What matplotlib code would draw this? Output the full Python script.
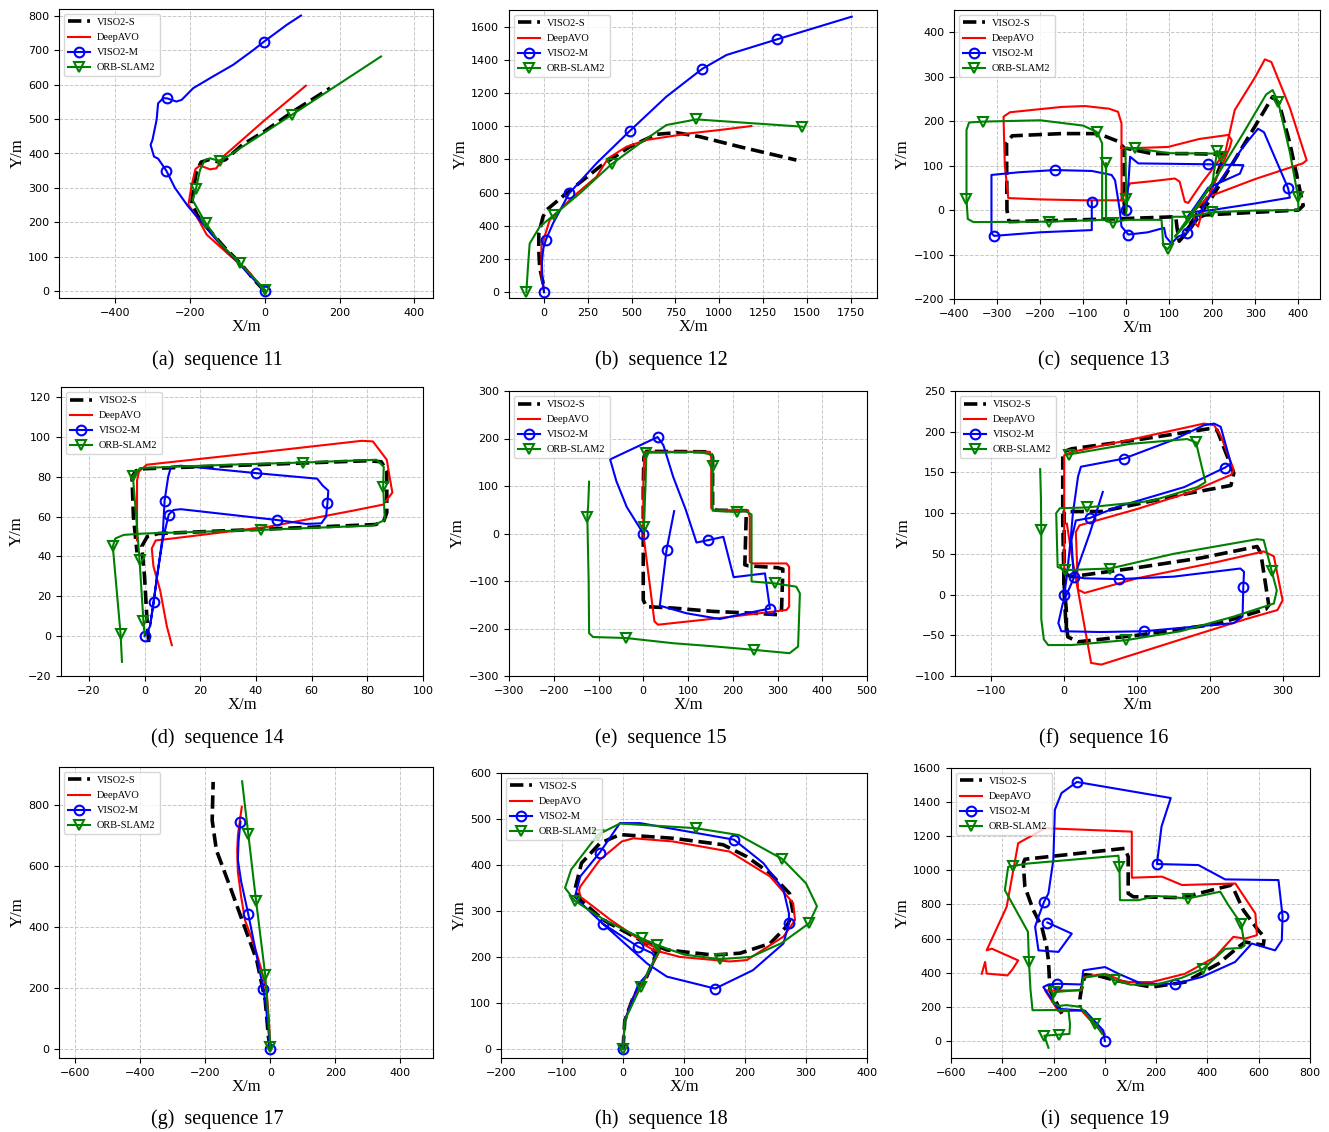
import matplotlib
matplotlib.use("Agg")
import matplotlib.pyplot as plt
import numpy as np

# ─── TRAJECTORY DATA (x, y in metres) ──────────────────────────────────────
# sequence 11
s11_viso2s = [(0, 0), (-30, 35), (-60, 75), (-110, 130), (-150, 180), (-180, 220), (-195, 255), (-190, 300),
              (-183, 345), (-170, 375), (-150, 382), (-125, 376), (-105, 382), (-60, 425), (0, 465), (80, 525), (175, 590)]
s11_deepavo = [(0, 0), (-39, 52), (-100, 110), (-155, 164), (-182, 217), (-204, 251), (-196, 304), (-185, 355),
               (-173, 365), (-146, 354), (-129, 357), (-111, 391), (0, 497), (110, 597)]
s11_viso2m = [(0, 0), (-60, 70), (-130, 150), (-206, 248), (-240, 300), (-263, 350), (-285, 385), (-296, 391),
              (-305, 425), (-300, 440), (-289, 498), (-285, 546), (-271, 561), (-260, 560), (-236, 551), (-222, 556),
              (-191, 590), (-146, 619), (-84, 658), (-30, 701), (-2, 725), (59, 774), (97, 801)]
s11_viso2m_marks = [0, 5, 13, 20]
s11_orbslam2 = [(0, 0), (0, 4), (-66, 81), (-120, 140), (-158, 198), (-193, 265), (-184, 296), (-173, 352),
                (-160, 381), (-146, 386), (-120, 378), (-93, 396), (72, 512), (311, 682)]
s11_orbslam2_marks = [1, 2, 4, 6, 10, 12]

# sequence 12
s12_viso2s = [(-5, 50), (-15, 100), (-25, 150), (-30, 250), (-30, 354), (-6, 454), (13, 494), (127, 595),
              (318, 756), (489, 876), (641, 951), (755, 961), (888, 937), (1117, 876), (1440, 796)]
s12_deepavo = [(0, 0), (-10, 60), (-15, 113), (-15, 273), (32, 434), (165, 575), (299, 695), (365, 806),
               (470, 876), (584, 917), (831, 957), (1002, 977), (1183, 1001)]
s12_viso2m = [(0, 0), (-10, 90), (-12, 180), (-5, 260), (10, 314), (51, 414), (143, 595), (299, 776), (489, 971),
              (698, 1178), (902, 1345), (1041, 1429), (1332, 1524), (1756, 1660)]
s12_viso2m_marks = [0, 4, 6, 8, 10, 12]
s12_orbslam2 = [(-101, 0), (-92, 150), (-82, 293), (-25, 394), (55, 464), (204, 595), (386, 772), (546, 896),
                (698, 1007), (869, 1041), (1474, 997)]
s12_orbslam2_marks = [0, 4, 6, 9, 10]

# sequence 13
s13_viso2s = [(-3, -10), (-5, 20), (-5, 140), (-20, 155), (-65, 172), (-150, 172), (-265, 167), (-278, 150),
              (-277, 0), (-272, -26), (-150, -23), (0, -19), (115, -15), (118, -40), (123, -70), (150, -40),
              (200, 30), (250, 110), (300, 190), (340, 255), (355, 240), (380, 150), (400, 60), (411, 10),
              (400, 0), (300, -5), (183, -11), (160, -20), (140, -45), (150, -30), (190, 30), (229, 125),
              (150, 127), (60, 127), (0, 139)]
s13_deepavo = [(-11, 22), (-11, 140), (-11, 195), (-19, 221), (-40, 228), (-96, 234), (-150, 232), (-270, 220),
               (-285, 210), (-282, 100), (-274, 27), (-200, 24), (-100, 22), (-11, 22), (9, 60), (60, 65),
               (113, 71), (124, 64), (136, 19), (144, 16), (175, 60), (230, 130), (252, 225), (300, 300),
               (322, 339), (337, 333), (380, 230), (419, 112), (410, 105), (300, 70), (191, 30), (180, 10),
               (167, -37), (160, -30), (155, -5), (170, 10), (191, 30), (240, 140), (245, 157), (237, 169),
               (170, 160), (97, 142), (9, 139), (-11, 140)]
s13_viso2m = [(-80, 19), (-80, -45), (-200, -50), (-307, -58), (-313, -52), (-313, 79), (-250, 85), (-166, 90),
              (-80, 88), (-34, 79), (-26, 67), (-15, 0), (-11, -37), (5, -55), (50, -50), (88, -40), (92, -60),
              (105, -75), (120, -60), (142, -51), (200, 40), (270, 140), (306, 183), (320, 175), (376, 49),
              (380, 28), (300, 15), (198, 0), (150, -5), (140, -20), (190, 50), (264, 82), (272, 101), (190, 103),
              (28, 105), (9, 120), (5, 60), (0, 0)]
s13_viso2m_marks = [0, 3, 7, 13, 19, 24, 33, 37]
s13_orbslam2 = [(-56, -22), (-56, 150), (-65, 170), (-69, 176), (-100, 190), (-200, 202), (-332, 199),
                (-365, 197), (-371, 180), (-371, 24), (-368, -20), (-355, -27), (-179, -26), (-56, -22),
                (-47, -22), (-47, 105), (-47, -25), (-31, -28), (0, -22), (82, -22), (86, -80), (96, -88),
                (106, -75), (107, -15), (144, -15), (200, -5), (300, -1), (400, 0), (399, 30), (380, 130),
                (353, 243), (340, 270), (325, 260), (270, 170), (200, 60), (150, -10), (113, -60), (140, -30),
                (200, 60), (211, 133), (221, 120), (215, 127), (100, 128), (20, 139), (-2, 140), (0, 24), (0, -10)]
s13_orbslam2_marks = [3, 6, 9, 12, 15, 17, 21, 24, 25, 28, 30, 39, 40, 43, 45]

# sequence 14
s14_viso2s = [(1.5, -3), (0.8, 10), (0, 30), (-1, 45), (1, 50), (5, 51.5), (40, 53.5), (83, 56), (86, 58),
              (87, 62), (87, 83), (85, 87.5), (80, 88), (40, 86), (0, 84), (-3, 83), (-4.5, 80), (-4, 60),
              (-2.7, 42)]
s14_deepavo = [(9.8, -4.5), (8, 5), (5.6, 23), (3.2, 35), (2.6, 44), (4, 48), (10, 49), (45, 55), (75, 63),
               (85.7, 66), (89, 72), (88, 80), (87, 88.5), (82, 97.7), (78, 98), (40, 92), (0.8, 86),
               (-2, 82.6), (-2.7, 78), (-2.7, 48)]
s14_viso2m = [(0, 0), (2, 5), (4, 25), (6.5, 50), (7.2, 68), (8.5, 80), (9.5, 85), (13, 85.5), (40, 81.8),
              (62, 79), (64, 75.5), (66, 73), (65.7, 67), (65.2, 60), (63.5, 56.6), (58, 56.3), (47.4, 58.3),
              (13, 63.7), (10.4, 63.3), (8.7, 61), (6.5, 48), (4.5, 30), (3.3, 17), (2, 5.5)]
s14_viso2m_marks = [0, 4, 8, 12, 16, 19, 22]
s14_orbslam2 = [(0, 1), (-0.4, 7.7), (-1.8, 38.2), (-3, 60), (-4.2, 80.4), (-1.6, 84.3), (30, 86),
                (56.8, 87.1), (83.3, 88.5), (85.9, 85), (85.7, 74.7), (86.3, 58.3), (82, 55.5), (41.7, 53.3),
                (0, 51.5), (-7.5, 50.8), (-10.5, 49), (-11.4, 45), (-10, 23), (-8.6, 1), (-8.1, -12.9)]
s14_orbslam2_marks = [1, 2, 4, 7, 10, 13, 17, 19]

# sequence 15
s15_viso2s = [(0, 0), (0, -140), (7, -154), (67, -157), (156, -164), (250, -168), (301, -171), (309, -161),
              (312, -75), (300, -72), (235, -68), (227, -66), (230, 35), (231, 48), (164, 49), (155, 53),
              (155, 161), (149, 172), (7, 173), (1.5, 161), (0, 100), (0, 0)]
s15_deepavo = [(0, 0), (0, 100), (2, 160), (5, 172), (80, 172), (149, 172), (152, 160), (152, 53), (160, 49),
               (234, 49), (238, 35), (238, -60), (245, -63), (320, -63), (326, -70), (326, -154), (320, -161),
               (171, -178), (33, -192), (25, -185), (0, 0)]
s15_viso2m = [(0, 0), (-37, 56), (-60, 110), (-74, 156), (32, 203), (45, 186), (67, 119), (95, 50), (119, -19),
              (145, -14), (179, -7), (202, -92), (272, -84), (283, -158), (230, -168), (171, -180), (97, -168),
              (37, -152), (52, -35), (69, 47)]
s15_viso2m_marks = [0, 4, 9, 13, 18]
s15_orbslam2 = [(-121, 109), (-123, 60), (-125, 35), (-122, -100), (-121, -210), (-112, -218), (-39, -220),
                (67, -231), (150, -237), (248, -245), (327, -252), (346, -238), (350, -126), (342, -112),
                (294, -105), (242, -101), (242, 40), (227, 48), (210, 45), (155, 48), (155, 142), (155, 165),
                (126, 172), (7, 170), (5, 100), (1.5, 14)]
s15_orbslam2_marks = [2, 6, 9, 14, 18, 20, 23, 25]

# sequence 16
s16_viso2s = [(3, -45), (3, -20), (0, 10), (0, 26), (10, 22), (100, 33), (188, 45), (265, 59), (270, 51),
              (281, -13), (277, -18), (210, -36), (100, -50), (19, -58), (5, -52), (2, -30), (0, 0), (-2, 91),
              (-2, 175), (10, 179), (100, 190), (201, 204), (210, 202), (233, 149), (229, 134), (169, 124),
              (51, 102), (0, 102), (0, 26)]
s16_deepavo = [(3.7, 87), (10, 50), (20, 0), (37, -84), (51, -86), (150, -58), (250, -30), (293, -19),
               (300, -7), (288, 47), (274, 53), (210, 40), (100, 20), (28, 2), (19, 6), (16, 77), (21, 85),
               (100, 105), (174, 126), (229, 147), (233, 153), (215, 195), (206, 208), (192, 210), (100, 192),
               (10, 175), (0, 171), (0, 91), (0, 30)]
s16_viso2m = [(0, 0), (3, 18), (8, 60), (12, 100), (19, 145), (23, 157), (82, 167), (150, 190), (192, 208),
              (206, 210), (215, 206), (229, 161), (221, 156), (165, 132), (74, 108), (35, 94), (16, 91),
              (10, 67), (13, 22), (28, 20), (75, 19), (150, 22), (242, 32), (247, 28), (246, 9), (245, -27),
              (233, -35), (110, -45), (50, -46), (-4, -45), (-8, -35), (-2, -11), (14, 22), (35, 75), (53, 126)]
s16_viso2m_marks = [0, 6, 12, 15, 18, 20, 24, 27]
s16_orbslam2 = [(-33, 154), (-32, 120), (-31.5, 79), (-31.5, -30), (-28, -55), (-22, -62), (10, -62),
                (85, -56), (160, -45), (233, -27), (288, -11), (292, 5), (285, 29), (274, 67), (265, 68),
                (150, 50), (63, 32), (0.5, 30), (-9, 34), (-11, 100), (-6, 106), (31, 107), (120, 115),
                (183, 132), (194, 138), (181, 187), (169, 191), (90, 185), (6, 172)]
s16_orbslam2_marks = [2, 7, 12, 16, 17, 21, 25, 28]

# sequence 17
s17_viso2s = [(0, 0), (-6, 39), (-16, 160), (-42, 291), (-83, 411), (-124, 532), (-166, 652), (-179, 750),
              (-176, 876)]
s17_deepavo = [(0, 0), (-5, 100), (-11, 182), (-25, 250), (-42, 313), (-60, 370), (-78, 422), (-90, 500),
               (-100, 580), (-102, 650), (-100, 700), (-88, 794)]
s17_viso2m = [(0, 0), (-15, 150), (-22, 198), (-45, 320), (-68, 442), (-90, 550), (-100, 620), (-98, 680),
              (-92, 745)]
s17_viso2m_marks = [0, 2, 4, 8]
s17_orbslam2 = [(0, 0), (0, 7), (-16, 244), (-44, 485), (-68, 705), (-87, 878)]
s17_orbslam2_marks = [1, 2, 3, 4]

# sequence 18
s18_viso2s = [(0, 0), (3, 62), (17, 113), (39, 157), (55, 208), (39, 229), (-32, 280), (-70, 324), (-79, 346),
              (-68, 404), (-38, 447), (-5, 466), (82, 458), (164, 444), (203, 418), (241, 382), (273, 338),
              (279, 295), (268, 266), (241, 229), (192, 208), (148, 204), (72, 215), (39, 233)]
s18_deepavo = [(0, 0), (3, 62), (17, 113), (40, 160), (61, 215), (28, 237), (-20, 280), (-70, 331), (-72, 345),
               (-70, 353), (-38, 411), (-2, 451), (17, 458), (82, 451), (175, 429), (241, 375), (279, 317),
               (282, 280), (263, 244), (203, 193), (175, 190), (93, 200), (50, 215), (30, 230)]
s18_viso2m = [(0, 0), (3, 62), (25, 140), (45, 170), (52, 200), (48, 208), (25, 222), (-33, 272), (-79, 330),
              (-70, 375), (-38, 427), (-5, 491), (28, 491), (182, 455), (230, 404), (263, 346), (272, 295),
              (272, 273), (263, 229), (213, 171), (151, 131), (72, 157), (40, 185), (-33, 272)]
s18_viso2m_marks = [0, 6, 7, 10, 13, 17, 20]
s18_orbslam2 = [(0, 0), (3, 62), (29, 135), (50, 190), (60, 215), (55, 226), (31, 240), (-30, 280), (-79, 322),
                (-95, 350), (-85, 390), (-41, 466), (-5, 490), (119, 480), (190, 465), (261, 413), (300, 360),
                (318, 310), (305, 273), (260, 230), (210, 200), (159, 195), (100, 205), (55, 226)]
s18_orbslam2_marks = [0, 2, 5, 6, 8, 11, 13, 15, 18, 21]

# sequence 19
s19_viso2s = [(-168, 159), (-190, 230), (-214, 296), (-220, 472), (-227, 551), (-246, 669), (-279, 767),
              (-312, 904), (-318, 1041), (-312, 1065), (78, 1129), (91, 1080), (91, 865), (111, 845), (300, 840),
              (495, 914), (540, 767), (598, 649), (622, 610), (618, 561), (547, 580), (521, 551), (443, 453),
              (313, 345), (183, 316), (40, 355), (-20, 380), (-77, 388), (-91, 306), (-97, 250), (-97, 198)]
s19_deepavo = [(0, 40), (-50, 110), (-91, 178), (-181, 174), (-233, 296), (-181, 296), (-91, 296), (-84, 375),
               (1, 394), (79, 345), (183, 345), (313, 394), (430, 492), (501, 610), (547, 600), (593, 620),
               (587, 747), (509, 923), (301, 914), (223, 963), (105, 957), (105, 1227), (-233, 1247),
               (-338, 1159), (-383, 786), (-461, 531), (-441, 541), (-338, 472), (-360, 420), (-380, 384),
               (-461, 395), (-467, 463), (-480, 394)]
s19_viso2m = [(0, 0), (-6, 61), (-78, 178), (-181, 188), (-240, 316), (-220, 331), (-185, 335), (-91, 331),
              (-84, 414), (1, 433), (53, 394), (144, 335), (274, 335), (378, 375), (508, 463), (573, 571),
              (664, 531), (690, 590), (693, 731), (677, 943), (469, 947), (365, 1031), (203, 1037), (221, 1257),
              (257, 1424), (-109, 1518), (-169, 1453), (-195, 1355), (-201, 1061), (-220, 865), (-237, 816),
              (-259, 727), (-272, 669), (-259, 531), (-181, 522), (-129, 629), (-224, 694)]
s19_viso2m_marks = [0, 6, 12, 18, 22, 25, 30, 36]
s19_orbslam2 = [(-10, 40), (-38, 100), (-97, 200), (-150, 210), (-180, 205), (-205, 230), (-197, 286),
                (-91, 300), (-84, 370), (1, 390), (40, 355), (100, 330), (200, 330), (300, 370), (384, 424),
                (470, 540), (531, 545), (545, 560), (531, 688), (480, 800), (450, 875), (323, 835), (200, 850),
                (131, 825), (59, 825), (57, 1018), (53, 1086), (-300, 1040), (-360, 1025), (-377, 1021),
                (-390, 884), (-300, 640), (-296, 463), (-290, 300), (-282, 180), (-142, 182), (-136, 100),
                (-138, 41), (-178, 37), (-236, 31), (-220, -40)]
s19_orbslam2_marks = [1, 6, 10, 14, 18, 21, 25, 28, 32, 38, 39]

LABELS = ["VISO2-S", "DeepAVO", "VISO2-M", "ORB-SLAM2"]
CAPTIONS = ["(a)  sequence 11", "(b)  sequence 12", "(c)  sequence 13",
            "(d)  sequence 14", "(e)  sequence 15", "(f)  sequence 16",
            "(g)  sequence 17", "(h)  sequence 18", "(i)  sequence 19"]

SERIF = ["Liberation Serif", "DejaVu Serif"]
W, H = 1329, 1132


def xy(pts):
    a = np.array(pts, dtype=float)
    return a[:, 0], a[:, 1]


def draw_panel(ax, s, r, b, bm, g, gm, xlim, ylim, xticks, yticks):
    ax.plot(*xy(s), color="k", ls="--", lw=2.6, label=LABELS[0], zorder=2)
    ax.plot(*xy(r), color="r", lw=1.5, label=LABELS[1], zorder=3)
    ax.plot(*xy(b), color="b", lw=1.5, marker="o", ms=7, mfc="none", mew=1.5,
            markevery=bm, label=LABELS[2], zorder=4)
    ax.plot(*xy(g), color="g", lw=1.5, marker="v", ms=7, mfc="none", mew=1.5,
            markevery=gm, label=LABELS[3], zorder=5)
    ax.set_xlim(*xlim)
    ax.set_ylim(*ylim)
    ax.set_xticks(xticks)
    ax.set_yticks(yticks)
    ax.tick_params(labelsize=8)
    ax.grid(True, ls="--", color="#c8c8c8", lw=0.7)
    ax.set_axisbelow(True)
    ax.set_xlabel("X/m", fontsize=12, family=SERIF, labelpad=1)
    ax.set_ylabel("Y/m", fontsize=12, family=SERIF, labelpad=2)
    ax.legend(loc="upper left", prop={"family": SERIF, "size": 7.5},
              labelspacing=0.55, handlelength=2.1, handletextpad=0.7,
              borderaxespad=0.45)


def px_axes(fig, x0, y0, x1, y1):
    return fig.add_axes([x0 / W, 1 - y1 / H, (x1 - x0) / W, (y1 - y0) / H])


fig = plt.figure(figsize=(W / 100, H / 100), dpi=100)

panels = [
    ((59, 9, 433, 298), (s11_viso2s, s11_deepavo, s11_viso2m, s11_viso2m_marks, s11_orbslam2, s11_orbslam2_marks),
     (-550, 450), (-20, 820), range(-400, 401, 200), range(0, 801, 100)),
    ((509, 10, 877, 298), (s12_viso2s, s12_deepavo, s12_viso2m, s12_viso2m_marks, s12_orbslam2, s12_orbslam2_marks),
     (-200, 1900), (-35, 1700), range(0, 1751, 250), range(0, 1601, 200)),
    ((954, 10, 1320, 299), (s13_viso2s, s13_deepavo, s13_viso2m, s13_viso2m_marks, s13_orbslam2, s13_orbslam2_marks),
     (-400, 450), (-200, 450), range(-400, 401, 100), range(-200, 401, 100)),
    ((61, 387, 423, 676), (s14_viso2s, s14_deepavo, s14_viso2m, s14_viso2m_marks, s14_orbslam2, s14_orbslam2_marks),
     (-30, 100), (-20, 125), range(-20, 101, 20), range(-20, 121, 20)),
    ((509, 391, 867, 676), (s15_viso2s, s15_deepavo, s15_viso2m, s15_viso2m_marks, s15_orbslam2, s15_orbslam2_marks),
     (-300, 500), (-300, 300), range(-300, 501, 100), range(-300, 301, 100)),
    ((955, 391, 1319, 676), (s16_viso2s, s16_deepavo, s16_viso2m, s16_viso2m_marks, s16_orbslam2, s16_orbslam2_marks),
     (-150, 350), (-100, 250), range(-100, 301, 100), range(-100, 251, 50)),
    ((59, 767, 433, 1058), (s17_viso2s, s17_deepavo, s17_viso2m, s17_viso2m_marks, s17_orbslam2, s17_orbslam2_marks),
     (-650, 500), (-30, 925), range(-600, 401, 200), range(0, 801, 200)),
    ((501, 773, 867, 1058), (s18_viso2s, s18_deepavo, s18_viso2m, s18_viso2m_marks, s18_orbslam2, s18_orbslam2_marks),
     (-200, 400), (-20, 600), range(-200, 401, 100), range(0, 601, 100)),
    ((951, 768, 1310, 1058), (s19_viso2s, s19_deepavo, s19_viso2m, s19_viso2m_marks, s19_orbslam2, s19_orbslam2_marks),
     (-600, 800), (-100, 1600), range(-600, 801, 200), range(0, 1601, 200)),
]

caption_pos = [(217, 360), (661, 360), (1104, 360),
               (217, 738), (661, 738), (1104, 738),
               (217, 1119), (661, 1119), (1105, 1119)]

for (box, series, xlim, ylim, xt, yt), cap, (cx, cy) in zip(panels, CAPTIONS, caption_pos):
    ax = px_axes(fig, *box)
    draw_panel(ax, *series, xlim, ylim, list(xt), list(yt))
    fig.text(cx / W, 1 - cy / H, cap, ha="center", va="center", fontsize=14.5, family=SERIF)

fig.savefig("out.png", dpi=100)
plt.close(fig)
